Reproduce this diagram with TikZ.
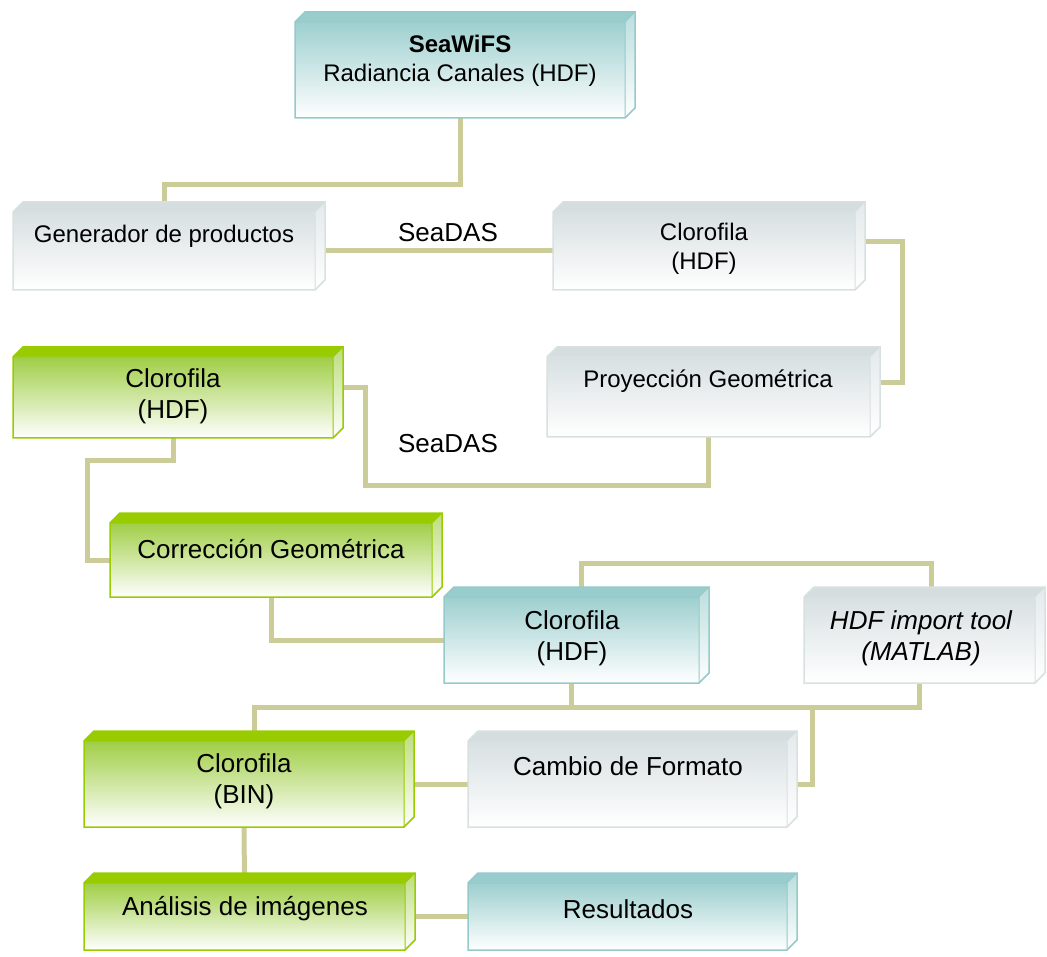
\documentclass[tikz,border=0pt]{standalone}
\usepackage{fontspec}
\setmainfont{Liberation Sans}
\usetikzlibrary{backgrounds,calc}
\definecolor{tltop}{RGB}{153,204,204}
\definecolor{tlface}{RGB}{158,207,207}
\definecolor{tlline}{RGB}{150,202,202}
\definecolor{grtop}{RGB}{153,204,0}
\definecolor{grface}{RGB}{160,206,70}
\definecolor{grline}{RGB}{153,204,0}
\definecolor{gytop}{RGB}{213,221,223}
\definecolor{gyface}{RGB}{216,224,226}
\definecolor{gyline}{RGB}{216,225,225}
\definecolor{wirecol}{RGB}{204,204,153}
\tikzset{
  wire/.style={draw=wirecol, line width=5pt, line join=miter},
  tA/.style={inner sep=0pt, align=center, font=\fontsize{24}{29}\selectfont},
  tB/.style={inner sep=0pt, align=center, font=\fontsize{26}{31}\selectfont},
}
\newcommand\tdbox[6]{%
 \node[inner sep=0pt, outer sep=0pt, anchor=north west, minimum width={(#4-#2)*1pt}, minimum height={(#5-#3)*1pt}] (#1) at (#2,#3) {};
 \fill[#6top] (#2,#3) -- (#2+10,#3-10) -- (#4+10,#3-10) -- (#4,#3) -- cycle;
 \shade[top color=#6face!70!white, middle color=#6face!20!white, bottom color=white] (#4,#3) -- (#4+10,#3-10) -- (#4+10,#5-10) -- (#4,#5) -- cycle;
 \shade[top color=#6face, middle color=#6face!30!white, bottom color=white] (#2,#3) rectangle (#4,#5);
 \draw[#6line, line width=1.5pt, line join=miter] (#2,#3) -- (#2+10,#3-10) -- (#4+10,#3-10) -- (#4+10,#5-10) -- (#4,#5) -- (#2,#5) -- cycle;
 \draw[#6line, line width=1pt] (#2,#3) -- (#4,#3) -- (#4,#5) (#4,#3) -- (#4+10,#3-10);
}
\begin{document}
\begin{tikzpicture}[x=1pt,y=-1pt]
\useasboundingbox (0,0) rectangle (1047,957);
\tdbox{sea}{295}{22}{625}{118}{tl}
\tdbox{gen}{13}{212}{315}{290}{gy}
\tdbox{clg}{553}{212}{855}{290}{gy}
\tdbox{proj}{547}{357}{870}{437}{gy}
\tdbox{clv}{13}{357}{333}{438}{gr}
\tdbox{cor}{110}{523}{432}{597}{gr}
\tdbox{clt}{444}{597}{699}{683}{tl}
\tdbox{hdf}{804}{597}{1035}{683}{gy}
\tdbox{bin}{84}{741}{404}{827}{gr}
\tdbox{cam}{468}{741}{787}{827}{gy}
\tdbox{ana}{84}{883}{405}{950}{gr}
\tdbox{res}{468}{883}{787}{950}{tl}

\node[tA] (seaT) at (460,61) {\textbf{SeaWiFS}\\Radiancia Canales (HDF)};
\node[tA] (genT) at (164,236) {Generador de productos};
\node[tA] (clgT) at (704,249) {Clorofila\\(HDF)};
\node[tA] (projT) at (708,381) {Proyección Geométrica};
\node[tB] (clvT) at (173,396) {Clorofila\\(HDF)};
\node[tB] (corT) at (271,549) {Corrección Geométrica};
\node[tB] (cltT) at (572,638) {Clorofila\\(HDF)};
\node[tB] (hdfT) at (921,638) {\itshape HDF import tool\\\itshape (MATLAB)};
\node[tB] (binT) at (244,781) {Clorofila\\(BIN)};
\node[tB] (camT) at (628,766) {Cambio de Formato};
\node[tB] (anaT) at (245,909) {Análisis de imágenes};
\node[tB] (resT) at (628,909) {Resultados};
\node[tB] (sd1) at (448,233) {SeaDAS};
\node[tB] (sd2) at (448,444) {SeaDAS};

\coordinate (j1) at (812,707);
\begin{scope}[on background layer]
\draw[wire] (sea.south) -- (sea.south |- 0,185) -| (gen.north);
\draw[wire] (gen.east) -- (clg.west);
\draw[wire] ([yshift=9pt]clg.east) -| (902,383) -- ([yshift=14pt]proj.east);
\draw[wire] (proj.south) |- (365,485) |- ([yshift=9.5pt]clv.east);
\draw[wire] (clv.south) |- (87,460) |- (cor.west);
\draw[wire] (cor.south) |- (clt.west);
\draw[wire] ([xshift=10pt]clt.north) |- ([xshift=12pt]hdf.north |- 0,563) -- ([xshift=12pt]hdf.north);
\draw[wire] (clt.south) -- (clt.south |- 0,707);
\draw[wire] (hdf.south) |- ([xshift=10pt]bin.north |- 0,707) -- ([xshift=10pt]bin.north);
\draw[wire] (j1) |- (cam.east);
\draw[wire] (bin.east) -- (cam.west);
\draw[wire] (bin.south) -- (ana.north);
\draw[wire] (ana.east) -- (res.west);
\end{scope}
\end{tikzpicture}
\end{document}
